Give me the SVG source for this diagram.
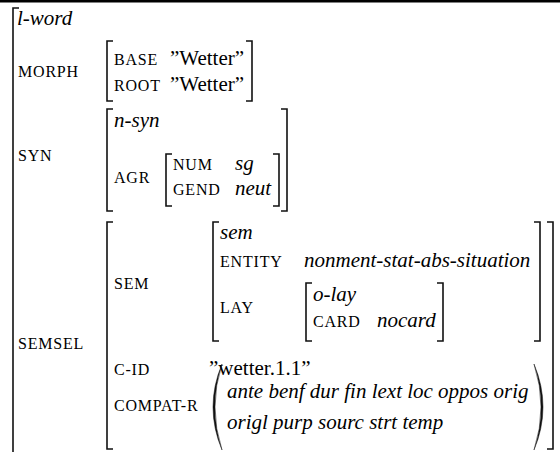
<svg xmlns="http://www.w3.org/2000/svg" width="560" height="452" viewBox="0 0 560 452">
  <style>
    text { font-family: "Liberation Serif", "Times New Roman", serif; fill: #000; }
    .v { font-size: 21px; }
    .i { font-size: 21px; font-style: italic; }
    .lab { font-size: 16px; letter-spacing: 0.8px; }
    .br { fill: none; stroke: #111; stroke-width: 1.6; }
    .par { fill: #111; stroke: #111; stroke-width: 0.5; }
  </style>

  <!-- rule across the top -->
  <rect x="0" y="0" width="560" height="2.5" fill="#000"/>

  <!-- outer l-word structure -->
  <g id="lword">
    <path class="br" d="M19,8 H13 V452"/>
    <text class="i" x="17" y="25">l-word</text>
    <text class="lab" x="18" y="77">MORPH</text>
    <text class="lab" x="18" y="161">SYN</text>
    <text class="lab" x="18" y="349">SEMSEL</text>
  </g>

  <!-- MORPH value -->
  <g id="morph">
    <path class="br" d="M113,41 H107 V101 H113"/>
    <path class="br" d="M246,41 H252 V101 H246"/>
    <text class="lab" x="114" y="65">BASE</text>
    <text class="v" x="170" y="65">”Wetter”</text>
    <text class="lab" x="114" y="91">ROOT</text>
    <text class="v" x="170" y="91">”Wetter”</text>
  </g>

  <!-- SYN value -->
  <g id="syn">
    <path class="br" d="M113,109 H107 V211 H113"/>
    <path class="br" d="M281,109 H287 V211 H281"/>
    <text class="i" x="114" y="127">n-syn</text>
    <text class="lab" x="114" y="183">AGR</text>
  </g>

  <!-- AGR value -->
  <g id="agr">
    <path class="br" d="M172,154 H166 V206 H172"/>
    <path class="br" d="M273,154 H279 V206 H273"/>
    <text class="lab" x="173" y="170">NUM</text>
    <text class="i" x="235" y="170">sg</text>
    <text class="lab" x="173" y="195">GEND</text>
    <text class="i" x="235" y="195">neut</text>
  </g>

  <!-- SEMSEL value -->
  <g id="semsel">
    <path class="br" d="M113,222 H107 V449 H113"/>
    <path class="br" d="M547,222 H553 V449 H547"/>
    <text class="lab" x="114" y="289">SEM</text>
    <text class="lab" x="114" y="375">C-ID</text>
    <text class="v" x="209" y="375">”wetter.1.1”</text>
    <text class="lab" x="114" y="411">COMPAT-R</text>
  </g>

  <!-- SEM value -->
  <g id="sem">
    <path class="br" d="M219,222 H213 V341 H219"/>
    <path class="br" d="M534,222 H540 V341 H534"/>
    <text class="i" x="220" y="239">sem</text>
    <text class="lab" x="220" y="267">ENTITY</text>
    <text class="i" x="304" y="267">nonment-stat-abs-situation</text>
    <text class="lab" x="220" y="313">LAY</text>
  </g>

  <!-- LAY value -->
  <g id="lay">
    <path class="br" d="M312,283 H306 V341 H312"/>
    <path class="br" d="M437,283 H443 V341 H437"/>
    <text class="i" x="313" y="301">o-lay</text>
    <text class="lab" x="313" y="327">CARD</text>
    <text class="i" x="377" y="327">nocard</text>
  </g>

  <!-- COMPAT-R value list -->
  <g id="compat">
    <path class="par" d="M222,364 Q204,407 222,450 Q208,407 222,364 Z"/>
    <path class="par" d="M534,364 Q552,407 534,450 Q548,407 534,364 Z"/>
    <text class="i" x="227" y="398">ante benf dur fin lext loc oppos orig</text>
    <text class="i" x="227" y="429">origl purp sourc strt temp</text>
  </g>
</svg>
